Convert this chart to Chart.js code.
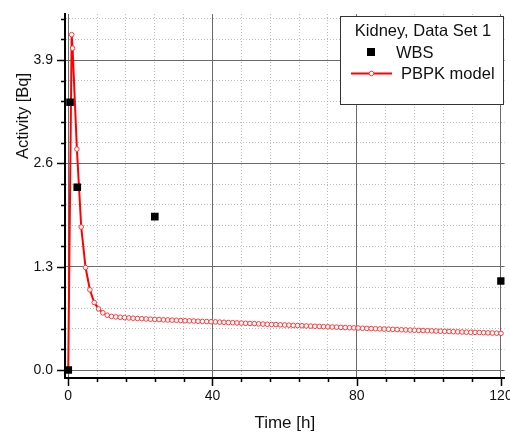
<!DOCTYPE html>
<html>
<head>
<meta charset="utf-8">
<script src="https://cdn.jsdelivr.net/npm/chart.js@4.4.1/dist/chart.umd.min.js"></script>
<style>
  html, body { margin: 0; padding: 0; background: #fff; }
  #wrap { width: 510px; height: 432px; }
</style>
</head>
<body>
<div id="wrap"><canvas id="kidneyChart" width="510" height="432"></canvas></div>
<script>
// WBS measurements (time in h, activity in Bq)
const wbsTimes = [0, 0.5, 2.5, 24, 120];
const wbsActivity = [0, 3.37, 2.30, 1.93, 1.12];

// PBPK model curve (time in h)
const modelTimes = [
    0, 0.95, 1.2, 2.4, 3.6, 4.8, 6, 7.2, 8.4, 9.6, 10.8,
    12, 13.2, 14.4, 15.6, 16.8, 18, 19.2, 20.4, 21.6, 22.8, 24,
    25.2, 26.4, 27.6, 28.8, 30, 31.2, 32.4, 33.6, 34.8, 36, 37.2, 38.4, 39.6,
    40.8, 42, 43.2, 44.4, 45.6, 46.8, 48, 49.2, 50.4, 51.6, 52.8, 54, 55.2, 56.4, 57.6, 58.8, 60,
    61.2, 62.4, 63.6, 64.8, 66, 67.2, 68.4, 69.6, 70.8, 72, 73.2, 74.4, 75.6, 76.8, 78, 79.2, 80.4,
    81.6, 82.8, 84, 85.2, 86.4, 87.6, 88.8, 90, 91.2, 92.4, 93.6, 94.8, 96, 97.2, 98.4, 99.6,
    100.8, 102, 103.2, 104.4, 105.6, 106.8, 108, 109.2, 110.4, 111.6, 112.8, 114, 115.2, 116.4, 117.6, 118.8, 120
];
// PBPK model activity (Bq), one per time above
const modelActivity = [
    0, 4.22, 4.05, 2.78, 1.80, 1.29, 1.01, 0.85, 0.77, 0.72, 0.69,
    0.675, 0.669, 0.664, 0.660, 0.656, 0.652, 0.649, 0.646, 0.643, 0.640, 0.637,
    0.635, 0.632, 0.630, 0.628, 0.626, 0.623, 0.621, 0.619, 0.617, 0.614, 0.612, 0.610, 0.608,
    0.606, 0.603, 0.601, 0.598, 0.596, 0.593, 0.591, 0.588, 0.586, 0.584, 0.581, 0.579, 0.576, 0.574, 0.572, 0.569, 0.567,
    0.565, 0.562, 0.560, 0.558, 0.555, 0.553, 0.551, 0.549, 0.546, 0.544, 0.542, 0.540, 0.537, 0.535, 0.533, 0.531, 0.529,
    0.526, 0.524, 0.522, 0.520, 0.518, 0.516, 0.514, 0.512, 0.510, 0.507, 0.505, 0.503, 0.501, 0.499, 0.497, 0.495,
    0.493, 0.491, 0.489, 0.487, 0.485, 0.483, 0.481, 0.479, 0.477, 0.475, 0.474, 0.472, 0.470, 0.468, 0.466, 0.464, 0.462
];

// Axis ticks
const xTicks = [0, 8, 16, 24, 32, 40, 48, 56, 64, 72, 80, 88, 96, 104, 112, 120];
const xTickLabels = [0, 40, 80, 120];
const yTicks = [0, 0.26, 0.52, 0.78, 1.04, 1.3, 1.56, 1.82, 2.08, 2.34, 2.6, 2.86, 3.12, 3.38, 3.64, 3.9, 4.16, 4.42];
const yTickLabels = [0.0, 1.3, 2.6, 3.9];

const legendTitle = 'Kidney, Data Set 1';
const FONT = 'Liberation Sans, Arial, sans-serif';
Chart.defaults.font.family = FONT;

function isLabelled(list, v) {
    return list.some(l => Math.abs(l - v) < 1e-6);
}

// minor / major tick marks outside the axes, y title, boxed legend
const decorations = {
    id: 'decorations',
    afterDraw(chart) {
        const ctx = chart.ctx;
        const xs = chart.scales.x, ys = chart.scales.y;
        ctx.save();
        ctx.strokeStyle = '#000';
        ctx.lineWidth = 1.5;
        ctx.beginPath();
        xTicks.forEach(v => {
            const px = Math.round(xs.getPixelForValue(v)) + 0.5;
            const len = isLabelled(xTickLabels, v) ? 8 : 4;
            ctx.moveTo(px, xs.top);
            ctx.lineTo(px, xs.top + len);
        });
        yTicks.forEach(v => {
            const py = Math.round(ys.getPixelForValue(v)) + 0.5;
            const len = isLabelled(yTickLabels, v) ? 8 : 4;
            ctx.moveTo(ys.right, py);
            ctx.lineTo(ys.right - len, py);
        });
        ctx.stroke();

        // y axis title
        ctx.fillStyle = '#111';
        ctx.font = '16.5px ' + FONT;
        ctx.textAlign = 'center';
        ctx.textBaseline = 'middle';
        ctx.translate(23, 116);
        ctx.rotate(-Math.PI / 2);
        ctx.fillText('Activity [Bq]', 0, 0);
        ctx.restore();

        // legend box
        ctx.save();
        ctx.fillStyle = '#fff';
        ctx.fillRect(340, 16, 163, 88);
        ctx.strokeStyle = '#333';
        ctx.lineWidth = 1;
        ctx.strokeRect(340.5, 16.5, 163, 88);
        ctx.fillStyle = '#111';
        ctx.font = '16.5px ' + FONT;
        ctx.textBaseline = 'middle';
        ctx.textAlign = 'center';
        ctx.fillText(legendTitle, 423, 31);
        ctx.textAlign = 'left';
        const ds = chart.data.datasets;
        ctx.fillStyle = '#000';
        ctx.fillRect(367, 48, 8, 8);
        ctx.fillStyle = '#111';
        ctx.fillText(ds[0].label, 396, 53);
        ctx.strokeStyle = '#ff0000';
        ctx.lineWidth = 2;
        ctx.beginPath();
        ctx.moveTo(351, 73.5);
        ctx.lineTo(392, 73.5);
        ctx.stroke();
        ctx.fillStyle = '#fff';
        ctx.strokeStyle = '#ff3030';
        ctx.lineWidth = 1;
        ctx.beginPath();
        ctx.arc(371.5, 73.5, 2.3, 0, Math.PI * 2);
        ctx.fill();
        ctx.stroke();
        ctx.fillStyle = '#111';
        ctx.fillText(ds[1].label, 401, 74);
        ctx.restore();
    }
};

let kidneyChart;

function initChart() {
    const canvas = document.getElementById('kidneyChart');
    if (kidneyChart) kidneyChart.destroy();
    kidneyChart = new Chart(canvas, {
        type: 'scatter',
        data: {
            datasets: [{
                label: 'WBS',
                data: wbsTimes.map((t, i) => ({ x: t, y: wbsActivity[i] })),
                pointStyle: 'rect',
                pointRadius: 5.4,
                pointBorderWidth: 0,
                backgroundColor: '#000',
                borderColor: '#000'
            }, {
                label: 'PBPK model',
                data: modelTimes.map((t, i) => ({ x: t, y: modelActivity[i] })),
                showLine: true,
                borderColor: '#ff0000',
                borderWidth: 2,
                tension: 0,
                pointRadius: 2.3,
                pointBorderWidth: 1,
                pointBorderColor: '#ff3838',
                pointBackgroundColor: '#fff'
            }]
        },
        options: {
            responsive: false,
            animation: false,
            devicePixelRatio: 1,
            layout: { padding: { top: 14, left: 0, right: 0, bottom: 0 } },
            plugins: {
                legend: { display: false },
                tooltip: { enabled: false }
            },
            scales: {
                x: {
                    type: 'linear',
                    min: -0.9,
                    max: 121.0,
                    afterBuildTicks: s => { s.ticks = xTicks.map(v => ({ value: v })); },
                    afterFit: s => { s.height = 54; s.paddingLeft = 0; s.paddingRight = 0; },
                    ticks: {
                        autoSkip: false,
                        maxRotation: 0,
                        padding: 10,
                        color: '#111',
                        font: { size: 14 },
                        callback: v => isLabelled(xTickLabels, v) ? String(v) : ''
                    },
                    grid: {
                        drawTicks: false,
                        lineWidth: 1,
                        color: c => (c.tick && isLabelled(xTickLabels, c.tick.value)) ? '#6a6a6a' : '#bdbdbd'
                    },
                    border: {
                        color: '#000',
                        width: 2,
                        dash: c => (c.tick && !isLabelled(xTickLabels, c.tick.value)) ? [1, 2] : []
                    },
                    title: {
                        display: true,
                        text: 'Time [h]',
                        color: '#111',
                        font: { size: 17 },
                        padding: { top: 0, bottom: -2 }
                    }
                },
                y: {
                    type: 'linear',
                    min: -0.1,
                    max: 4.48,
                    afterBuildTicks: s => { s.ticks = yTicks.map(v => ({ value: v })); },
                    afterFit: s => { s.width = 65; s.paddingTop = 0; s.paddingBottom = 0; },
                    ticks: {
                        autoSkip: false,
                        padding: 12,
                        color: '#111',
                        font: { size: 14 },
                        callback: v => isLabelled(yTickLabels, v) ? v.toFixed(1) : ''
                    },
                    grid: {
                        drawTicks: false,
                        lineWidth: 1,
                        color: c => (c.tick && isLabelled(yTickLabels, c.tick.value)) ? '#6a6a6a' : '#bdbdbd'
                    },
                    border: {
                        color: '#000',
                        width: 2,
                        dash: c => (c.tick && !isLabelled(yTickLabels, c.tick.value)) ? [1, 2] : []
                    }
                }
            }
        },
        plugins: [decorations]
    });
}

window.addEventListener('DOMContentLoaded', () => {
    initChart();
});
</script>
</body>
</html>
